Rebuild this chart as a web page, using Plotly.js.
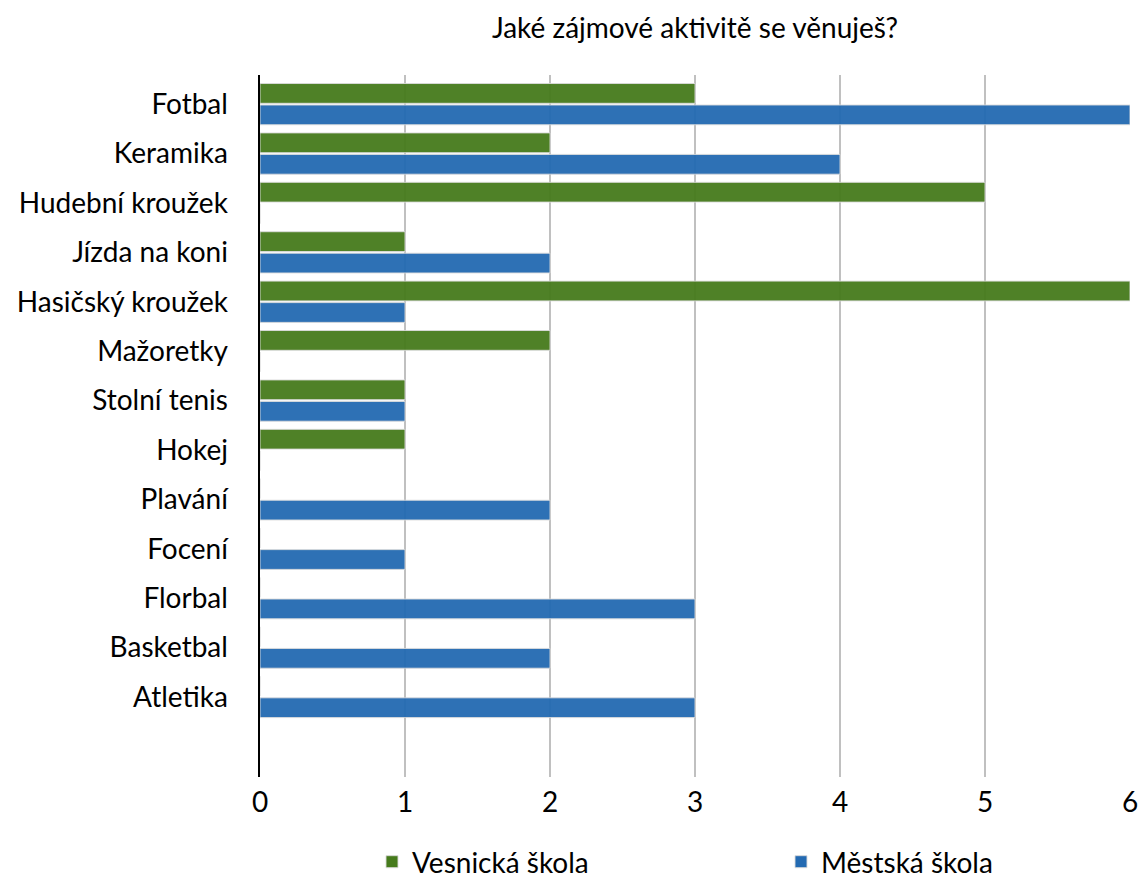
<!DOCTYPE html>
<html>
<head>
<meta charset="utf-8">
<script src="https://cdn.plot.ly/plotly-3.0.1.min.js"></script>
<style>html,body{margin:0;padding:0;background:#fff;}#chart{width:1140px;height:880px;}</style>
</head>
<body>
<div id="chart"></div>
<script>
const categories = ["Fotbal","Keramika","Hudební kroužek","Jízda na koni","Hasičský kroužek","Mažoretky","Stolní tenis","Hokej","Plavání","Focení","Florbal","Basketbal","Atletika"];
const vesnicka = [3,2,5,1,6,2,1,1,0,0,0,0,0];
const mestska = [6,4,0,2,1,0,1,0,2,1,3,2,3];
const seriesNames = ["Vesnická škola","Městská škola"];
const xTicks = [0,1,2,3,4,5,6];

const FONT = "Lato, 'Open Sans', sans-serif";
const traces = [
  {type:'bar', orientation:'h', name:seriesNames[0], y:categories, x:vesnicka,
   marker:{color:'#467b1c', opacity:0.95, line:{color:'rgba(220,220,220,0.9)', width:1}}, hoverinfo:'x+y'},
  {type:'bar', orientation:'h', name:seriesNames[1], y:categories, x:mestska,
   marker:{color:'#236ab2', opacity:0.95, line:{color:'rgba(220,220,220,0.9)', width:1}}, hoverinfo:'x+y'}
];
const layout = {
  width:1140, height:880,
  margin:{l:260, r:10, t:75, b:103, pad:0},
  paper_bgcolor:'#fff', plot_bgcolor:'#fff',
  font:{family:FONT, size:28, color:'#000'},
  title:{text:'Jaké zájmové aktivitě se věnuješ?', font:{family:FONT, size:28, color:'#000'},
         xref:'paper', x:0.5, xanchor:'center', yref:'container', y:1-28/880, yanchor:'middle'},
  barmode:'group', bargap:0.13, bargroupgap:0.08,
  xaxis:{range:[0,6], tickvals:xTicks, showgrid:true, gridcolor:'#c0c0c0', gridwidth:1.5,
         zeroline:false, showline:false, ticks:'', ticklabelstandoff:6, tickfont:{family:FONT,size:28,color:'#000'}, fixedrange:true},
  yaxis:{type:'category', categoryorder:'array', categoryarray:categories, range:[13.62,-0.59],
         showgrid:false, zeroline:false, showline:true, linecolor:'#000', linewidth:2.5, ticks:'',
         ticklabelstandoff:24, tickfont:{family:FONT,size:28,color:'#000'}, fixedrange:true},
  legend:{orientation:'h', xref:'container', yref:'container', x:372/1140, xanchor:'left', y:18/880, yanchor:'middle',
          font:{family:FONT,size:28,color:'#000'}, entrywidth:364, traceorder:'normal'},
  showlegend:true
};
Plotly.newPlot('chart', traces, layout, {displayModeBar:false, staticPlot:true});
</script>
</body>
</html>
